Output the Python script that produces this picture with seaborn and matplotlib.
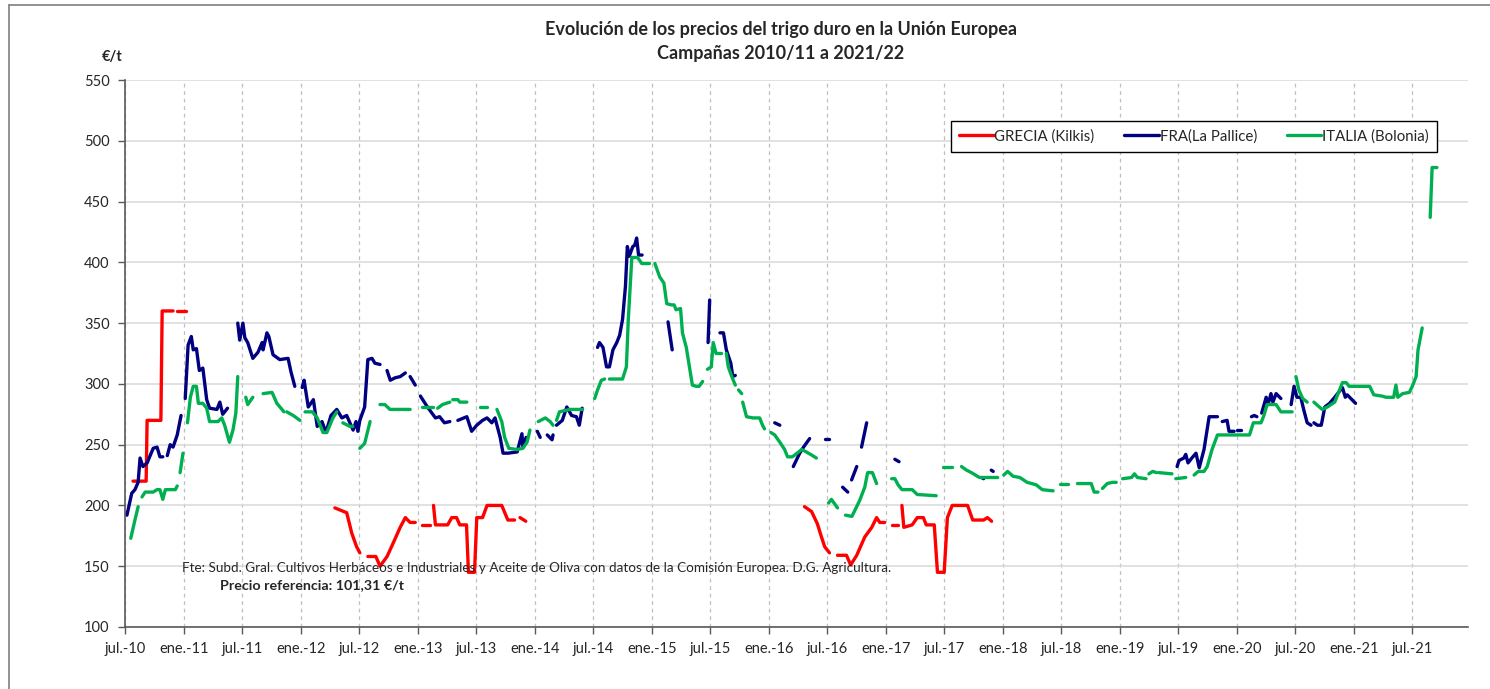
import matplotlib
matplotlib.use('Agg')
import matplotlib.pyplot as plt
from matplotlib.lines import Line2D
import seaborn as sns
import pandas as pd
import numpy as np

# Precios semanales (€/t); None = semana sin cotización
grecia_fechas = [
    '2010-07-26', '2010-09-05', '2010-09-08', '2010-10-21', '2010-10-25', '2010-11-28', None,
    '2010-12-10', '2011-01-07', None,
    '2012-04-16', '2012-05-23', '2012-06-08', '2012-06-23', '2012-07-03', None,
    '2012-07-28', '2012-08-22', '2012-09-04', '2012-09-26', '2012-10-15', '2012-11-06',
    '2012-11-22', '2012-12-07', '2012-12-23', None,
    '2013-01-14', '2013-02-08', None,
    '2013-02-18', '2013-02-24', '2013-04-03', '2013-04-16', '2013-05-01', '2013-05-11',
    '2013-06-01', '2013-06-07', '2013-06-26', '2013-07-03', '2013-07-21', '2013-08-04',
    '2013-09-19', '2013-10-08', '2013-10-29', None,
    '2013-11-15', '2013-12-03', None,
    '2016-04-21', '2016-05-13', '2016-05-31', '2016-06-13', '2016-06-23', '2016-07-08', None,
    '2016-08-02', '2016-08-30', '2016-09-12', '2016-10-01', '2016-10-26', '2016-11-17',
    '2016-12-02', '2016-12-12', '2016-12-27', None,
    '2017-01-18', '2017-02-07', None,
    '2017-02-19', '2017-02-25', '2017-03-23', '2017-04-08', '2017-04-27', '2017-05-06',
    '2017-05-31', '2017-06-10', '2017-07-01', '2017-07-11', '2017-07-26', '2017-09-12',
    '2017-09-28', '2017-11-01', '2017-11-13', '2017-11-26',
]
grecia_precios = [
    220, 220, 270, 270, 360, 360, None,
    360, 360, None,
    198, 194, 177, 166, 161, None,
    158, 158, 150, 158, 169, 182,
    190, 186, 186, None,
    184, 184, None,
    200, 184, 184, 190, 190, 184,
    184, 145, 145, 190, 190, 200,
    200, 188, 188, None,
    190, 187, None,
    199, 195, 185, 174, 166, 161, None,
    159, 159, 151, 159, 174, 182,
    190, 186, 186, None,
    184, 184, None,
    200, 182, 184, 190, 190, 184,
    184, 145, 145, 190, 200, 200,
    188, 188, 190, 187,
]

fra_fechas = [
    '2010-07-07', '2010-07-22', '2010-08-01', '2010-08-11', '2010-08-17', '2010-08-26',
    '2010-09-08', '2010-09-27', '2010-10-09', '2010-10-18', '2010-10-27', None,
    '2010-11-10', '2010-11-19', '2010-11-28', '2010-12-11', '2010-12-23', None,
    '2011-01-05', '2011-01-14', '2011-01-24', '2011-01-30', '2011-02-09', '2011-02-18',
    '2011-03-01', '2011-03-13', '2011-03-22', '2011-04-14', '2011-04-23', '2011-05-02',
    '2011-05-11', '2011-05-17', None,
    '2011-06-18', '2011-06-24', '2011-07-04', '2011-07-10', '2011-07-19', '2011-08-04',
    '2011-08-20', '2011-09-02', '2011-09-05', '2011-09-17', '2011-09-23', '2011-10-06',
    '2011-10-27', '2011-11-22', '2011-12-01', '2011-12-13', None,
    '2012-01-05', '2012-01-11', '2012-01-24', '2012-02-09', '2012-02-21', '2012-03-07',
    '2012-03-19', '2012-04-04', '2012-04-22', '2012-05-08', '2012-05-23', '2012-06-12',
    '2012-06-21', '2012-06-27', '2012-07-03', '2012-07-18', '2012-07-28', '2012-08-10',
    '2012-08-19', '2012-09-04', None,
    '2012-09-26', '2012-10-06', '2012-10-21', '2012-11-06', '2012-11-22', None,
    '2012-12-07', '2012-12-23', None,
    '2013-01-08', '2013-01-30', '2013-02-24', '2013-03-09', '2013-03-24', '2013-04-10', None,
    '2013-05-05', '2013-06-02', '2013-06-17', '2013-07-03', '2013-07-21', '2013-08-04',
    '2013-08-19', '2013-08-29', '2013-09-14', '2013-09-23', '2013-10-08', '2013-11-06',
    '2013-11-21', '2013-11-24', '2013-12-04', None,
    '2014-01-08', '2014-01-17', None,
    '2014-02-08', '2014-02-23', '2014-02-26', None,
    '2014-03-09', '2014-03-27', '2014-04-10', '2014-04-25', '2014-05-10', '2014-05-19',
    '2014-05-28', None,
    '2014-07-15', '2014-07-21', '2014-08-01', '2014-08-12', '2014-08-21', '2014-09-01',
    '2014-09-13', '2014-09-22', '2014-10-01', '2014-10-10', '2014-10-16', '2014-10-22',
    '2014-11-02', '2014-11-08', '2014-11-14', '2014-11-20', '2014-12-01', None,
    '2015-02-20', '2015-03-05', None,
    '2015-06-25', '2015-06-30', None,
    '2015-08-01', '2015-08-12', '2015-08-21', '2015-09-04', '2015-09-10', '2015-09-18', None,
    '2016-01-19', '2016-02-04', None,
    '2016-03-17', '2016-04-06', '2016-04-18', '2016-05-07', None,
    '2016-06-23', '2016-07-05', None,
    '2016-08-18', '2016-09-03', None,
    '2016-09-15', '2016-10-01', None,
    '2016-10-16', '2016-11-01', None,
    '2017-01-28', '2017-02-10', None,
    '2017-10-26', '2017-11-01', None,
    '2017-11-25', '2017-12-01', None,
    '2019-06-28', '2019-07-04', '2019-07-19', '2019-07-25', '2019-08-01', '2019-08-13',
    '2019-08-26', '2019-09-05', '2019-09-20', '2019-10-06', '2019-10-21', '2019-11-01', None,
    '2019-11-16', '2019-12-01', '2019-12-07', '2019-12-23', None,
    '2020-01-02', '2020-01-14', None,
    '2020-02-15', '2020-02-24', '2020-03-03', None,
    '2020-03-18', '2020-04-01', '2020-04-07', '2020-04-16', '2020-04-22', '2020-05-02',
    '2020-05-17', None,
    '2020-06-18', '2020-06-27', '2020-07-06', '2020-07-18', '2020-07-27', '2020-08-07',
    '2020-08-19', None,
    '2020-08-28', '2020-09-08', '2020-09-20', '2020-10-01', '2020-10-16', '2020-11-01',
    '2020-11-10', '2020-11-25', '2020-12-04', '2020-12-10', '2021-01-05',
]
fra_precios = [
    192, 210, 213, 219, 239, 232,
    235, 247, 248, 240, 240, None,
    241, 250, 248, 258, 274, None,
    288, 332, 339, 328, 329, 311,
    313, 287, 280, 279, 285, 275,
    278, 280, None,
    350, 336, 350, 338, 334, 321,
    326, 334, 328, 342, 339, 324,
    320, 321, 310, 298, None,
    297, 303, 281, 287, 265, 269,
    260, 274, 279, 272, 274, 262,
    269, 261, 270, 281, 320, 321,
    317, 316, None,
    311, 303, 305, 306, 309, None,
    306, 299, None,
    290, 281, 272, 273, 268, 269, None,
    270, 273, 261, 266, 270, 272,
    268, 272, 256, 243, 243, 244,
    259, 248, 256, None,
    261, 256, None,
    258, 254, 258, None,
    266, 270, 281, 274, 273, 266,
    280, None,
    330, 334, 330, 314, 314, 328,
    334, 340, 353, 380, 413, 405,
    413, 414, 420, 406, 406, None,
    351, 328, None,
    334, 369, None,
    342, 342, 328, 317, 306, 307, None,
    268, 266, None,
    232, 243, 248, 255, None,
    255, 255, None,
    215, 211, None,
    221, 232, None,
    248, 268, None,
    238, 236, None,
    223, 222, None,
    229, 228, None,
    232, 237, 239, 242, 235, 239,
    243, 231, 246, 273, 273, 273, None,
    269, 270, 261, 261, None,
    262, 262, None,
    273, 274, 273, None,
    276, 289, 283, 292, 285, 292,
    288, None,
    283, 298, 289, 289, 279, 268,
    266, None,
    268, 266, 266, 281, 284, 289,
    292, 297, 289, 291, 284,
]

italia_fechas = [
    '2010-07-19', '2010-08-01', '2010-08-11', None,
    '2010-08-23', '2010-09-02', '2010-09-27', '2010-10-09', '2010-10-18', '2010-10-27',
    '2010-11-04', '2010-12-05', '2010-12-11', None,
    '2010-12-20', '2010-12-29', None,
    '2011-01-12', '2011-01-21', '2011-01-30', '2011-02-09', '2011-02-15', '2011-03-01',
    '2011-03-13', '2011-03-22', '2011-04-17', '2011-04-29', '2011-05-08', '2011-05-23',
    '2011-06-03', '2011-06-12', '2011-06-18', None,
    '2011-07-13', '2011-07-19', '2011-08-04', None,
    '2011-09-05', '2011-10-03', '2011-10-18', '2011-11-03', '2011-11-09', None,
    '2011-11-18', '2011-12-08', '2011-12-29', None,
    '2012-01-14', '2012-02-06', '2012-02-21', '2012-03-10', '2012-03-22', '2012-04-10',
    '2012-04-22', None,
    '2012-05-11', '2012-06-02', '2012-06-11', None,
    '2012-07-03', '2012-07-18', '2012-08-04', None,
    '2012-09-04', '2012-09-19', '2012-10-05', '2012-10-26', '2012-12-07', None,
    '2013-01-14', '2013-02-15', None,
    '2013-03-03', '2013-03-18', '2013-04-10', None,
    '2013-04-19', '2013-05-05', '2013-05-11', '2013-06-02', None,
    '2013-07-12', '2013-08-04', None,
    '2013-09-04', '2013-09-19', '2013-09-28', '2013-10-11', '2013-11-06', '2013-11-24',
    '2013-12-07', '2013-12-16', None,
    '2014-01-11', '2014-02-02', '2014-02-17', '2014-02-26', None,
    '2014-03-09', '2014-03-18', '2014-04-19', '2014-05-29', None,
    '2014-07-06', '2014-07-15', '2014-07-27', '2014-08-06', None,
    '2014-08-21', '2014-10-01', '2014-10-13', '2014-10-19', '2014-10-30', '2014-11-17',
    '2014-11-30', '2014-12-24', None,
    '2015-01-10', '2015-01-25', '2015-02-07', '2015-02-16', '2015-03-02', '2015-03-11',
    '2015-03-17', '2015-03-31', '2015-04-06', '2015-04-18', '2015-05-07', '2015-05-19',
    '2015-05-28', '2015-06-08', None,
    '2015-06-23', '2015-07-05', '2015-07-11', '2015-07-20', '2015-08-06', None,
    '2015-08-21', '2015-08-27', '2015-09-07', '2015-09-18', None,
    '2015-09-28', '2015-10-08', None,
    '2015-10-11', '2015-10-23', '2015-11-12', '2015-12-03', '2015-12-12', '2015-12-18', None,
    '2016-01-07', '2016-01-19', '2016-02-04', '2016-02-19', '2016-02-28', '2016-03-14',
    '2016-03-29', '2016-04-12', '2016-04-27', '2016-05-16', '2016-05-28', None,
    '2016-07-05', '2016-07-14', '2016-08-02', None,
    '2016-08-27', '2016-09-16', '2016-10-10', '2016-10-26', '2016-11-04', '2016-11-19',
    '2016-12-02', None,
    '2017-01-18', '2017-01-28', '2017-02-07', '2017-02-19', '2017-03-23', '2017-04-08',
    '2017-06-06', None,
    '2017-06-28', '2017-07-26', None,
    '2017-08-24', '2017-09-09', '2017-09-24', '2017-10-19', '2017-12-15', None,
    '2018-01-03', '2018-01-15', '2018-02-01', '2018-02-22', '2018-03-17', '2018-04-14',
    '2018-05-03', '2018-06-06', None,
    '2018-06-28', '2018-07-23', None,
    '2018-08-21', '2018-10-03', '2018-10-12', '2018-10-24', None,
    '2018-11-07', '2018-11-22', '2018-12-08', '2018-12-20', None,
    '2019-01-09', '2019-02-06', '2019-02-15', '2019-02-24', '2019-03-23', None,
    '2019-04-01', '2019-04-13', '2019-04-25', None,
    '2019-05-02', '2019-06-12', None,
    '2019-06-24', '2019-07-25', None,
    '2019-08-20', '2019-09-02', '2019-09-20', '2019-09-30', '2019-10-15', '2019-11-01',
    '2020-02-09', '2020-02-21', '2020-03-16', '2020-03-25', '2020-04-04', '2020-05-02',
    '2020-05-17', '2020-06-21', None,
    '2020-07-03', '2020-07-12', '2020-07-24', '2020-08-07', None,
    '2020-08-28', '2020-09-14', '2020-09-23', '2020-10-09', '2020-11-01', '2020-11-16',
    '2020-11-25', '2020-12-07', '2020-12-16', '2021-02-18', '2021-03-03', '2021-03-28',
    '2021-04-10', '2021-05-04', '2021-05-11', '2021-05-17', '2021-06-01', '2021-06-22',
    '2021-07-01', '2021-07-13', '2021-07-19', '2021-08-01', None,
    '2021-08-26', '2021-09-01', '2021-09-16',
]
italia_precios = [
    173, 188, 199, None,
    207, 211, 211, 213, 213, 205,
    213, 213, 216, None,
    227, 243, None,
    268, 289, 298, 298, 284, 284,
    280, 269, 269, 272, 266, 252,
    262, 276, 306, None,
    289, 283, 289, None,
    292, 293, 284, 279, 277, None,
    277, 274, 270, None,
    277, 277, 272, 260, 260, 272,
    277, None,
    268, 265, 265, None,
    247, 251, 269, None,
    283, 283, 279, 279, 279, None,
    281, 281, None,
    280, 283, 285, None,
    287, 287, 285, 285, None,
    281, 281, None,
    279, 269, 256, 247, 246, 247,
    252, 262, None,
    269, 272, 269, 266, None,
    270, 277, 279, 279, None,
    288, 295, 303, 304, None,
    304, 304, 314, 353, 404, 404,
    399, 399, None,
    399, 388, 383, 366, 365, 365,
    361, 362, 342, 330, 299, 298,
    298, 302, None,
    312, 314, 334, 325, 325, None,
    325, 314, 306, 299, None,
    295, 292, None,
    285, 273, 272, 272, 266, 263, None,
    260, 258, 252, 246, 240, 240,
    243, 246, 244, 241, 239, None,
    202, 205, 198, None,
    192, 191, 204, 215, 227, 227,
    218, None,
    222, 222, 217, 213, 213, 209,
    208, None,
    232, 232, None,
    232, 229, 227, 223, 223, None,
    225, 228, 224, 223, 219, 217,
    213, 212, None,
    218, 218, None,
    218, 218, 211, 211, None,
    214, 218, 219, 219, None,
    222, 223, 226, 223, 222, None,
    226, 228, 227, None,
    227, 226, None,
    222, 223, None,
    225, 228, 228, 232, 246, 258,
    258, 268, 268, 274, 283, 283,
    277, 277, None,
    306, 295, 288, 285, None,
    285, 281, 279, 281, 285, 295,
    301, 301, 298, 298, 291, 290,
    289, 289, 299, 289, 292, 293,
    298, 306, 328, 346, None,
    437, 478, 478,
]

series = ['GRECIA (Kilkis)', 'FRA(La Pallice)', 'ITALIA (Bolonia)']
colores = ['#FF0000', '#000080', '#00B050']

tramos = []
for nombre, fechas, precios in zip(series, [grecia_fechas, fra_fechas, italia_fechas],
                                   [grecia_precios, fra_precios, italia_precios]):
    d = pd.DataFrame({'fecha': pd.to_datetime(fechas), 'precio': pd.array(precios, dtype='Float64')})
    d['tramo'] = d['precio'].isna().cumsum()
    d['serie'] = nombre
    tramos.append(d.dropna())
df = pd.concat(tramos, ignore_index=True)
df['precio'] = df['precio'].astype(float)

sns.set_style('white')
plt.rcParams['font.family'] = ['Lato', 'DejaVu Sans']

fig = plt.figure(figsize=(14.9, 6.89), dpi=100)
ax = fig.add_axes([125 / 1490, 62 / 689, 1343 / 1490, 547 / 689])

sns.lineplot(data=df, x='fecha', y='precio', hue='serie', units='tramo', estimator=None,
             hue_order=series, palette=colores, linewidth=2.4, sort=False, ax=ax)

# ejes
ax.set_ylim(100, 550)
ax.set_yticks(np.arange(100, 551, 50))
ax.set_xlim(pd.Timestamp('2010-07-01'), pd.Timestamp('2021-12-22'))
ticks = pd.date_range('2010-07-01', '2021-07-01', freq='6MS')
ax.set_xticks(ticks)
ax.set_xticklabels([('jul.-' if t.month == 7 else 'ene.-') + t.strftime('%y') for t in ticks])
ax.tick_params(axis='both', labelsize=10.5, length=5, width=1, color='#595959', direction='out',
               bottom=True, left=True, pad=6)
ax.set_xlabel('')
ax.set_ylabel('')
for s in ['top', 'right']:
    ax.spines[s].set_visible(False)
for s in ['left', 'bottom']:
    ax.spines[s].set_color('#595959')
    ax.spines[s].set_linewidth(1.2)
ax.grid(axis='y', color='#D9D9D9', linewidth=1.1, linestyle='-')
ax.grid(axis='x', color='#BFBFBF', linewidth=0.9, linestyle=(0, (3, 3)))
ax.set_axisbelow(True)

h, l = ax.get_legend_handles_labels()
ax.legend(h, l, loc='upper right', bbox_to_anchor=(0.977, 0.925), ncol=3, fontsize=10.8,
          frameon=True, fancybox=False, edgecolor='black', framealpha=1,
          handlelength=2.3, columnspacing=2.0, handletextpad=0.05, borderpad=0.55,
          borderaxespad=0)

# textos
fig.text(781 / 1490, 1 - 29 / 689, 'Evolución de los precios del trigo duro en la Unión Europea',
         ha='center', va='center', fontsize=13, fontweight='bold')
fig.text(781 / 1490, 1 - 53 / 689, 'Campañas 2010/11 a 2021/22',
         ha='center', va='center', fontsize=13, fontweight='bold')
fig.text(112 / 1490, 1 - 57 / 689, '€/t', ha='center', va='center', fontsize=10.5, fontweight='bold')
ax.text(0.0425, 0.108, 'Fte: Subd. Gral. Cultivos Herbáceos e Industriales y Aceite de Oliva con datos '
        'de la Comisión Europea. D.G. Agricultura.', transform=ax.transAxes, ha='left', va='center',
        fontsize=9.7)
ax.text(0.0707, 0.077, 'Precio referencia: 101,31 €/t', transform=ax.transAxes, ha='left',
        va='center', fontsize=10.3, fontweight='bold')

# marco del gráfico
fig.add_artist(Line2D([9 / 1490, 9 / 1490], [0, 1 - 5 / 689], color='#7F7F7F', linewidth=1.2))
fig.add_artist(Line2D([9 / 1490, 1], [1 - 5 / 689, 1 - 5 / 689], color='#7F7F7F', linewidth=1.2))

fig.savefig('out.png', dpi=100)
plt.close()
